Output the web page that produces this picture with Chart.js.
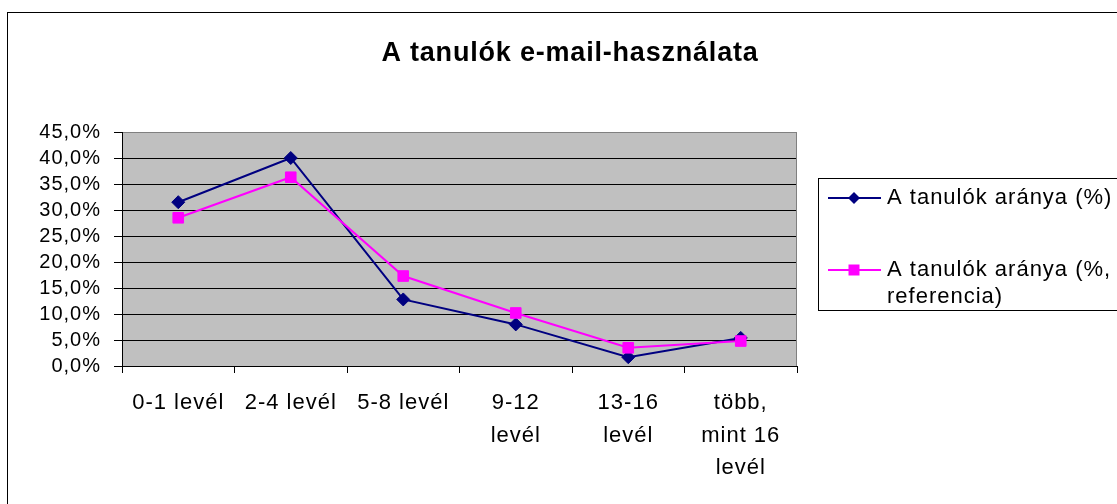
<!DOCTYPE html>
<html lang="hu">
<head>
<meta charset="utf-8">
<title>A tanulók e-mail-használata</title>
<script src="https://cdn.jsdelivr.net/npm/chart.js@4"></script>
<style>
  html, body { margin: 0; padding: 0; background: #fff; }
  #myChart { display: block; }
</style>
</head>
<body>
<canvas id="myChart" width="1117" height="504"></canvas>
<script>
var chartTitle = 'A tanulók e-mail-használata';
var categories = [['0-1 levél'], ['2-4 levél'], ['5-8 levél'], ['9-12', 'levél'], ['13-16', 'levél'], ['több,', 'mint 16', 'levél']];
var seriesNames = ['A tanulók aránya (%)', 'A tanulók aránya (%, referencia)'];
var tanulok = [31.5, 40.0, 12.8, 8.0, 1.7, 5.4];
var referencia = [28.5, 36.3, 17.3, 10.2, 3.5, 4.8];

var fontFamily = '"Liberation Sans", Arial, sans-serif';

// word wrap for the legend text
function wrapText(ctx, text, maxWidth) {
    var words = text.split(' ');
    var lines = [];
    var line = '';
    words.forEach(function (w) {
        var test = line ? line + ' ' + w : w;
        if (line && ctx.measureText(test).width > maxWidth) {
            lines.push(line);
            line = w;
        } else {
            line = test;
        }
    });
    lines.push(line);
    return lines;
}

function drawMarker(ctx, style, x, y, color) {
    ctx.fillStyle = color;
    ctx.beginPath();
    if (style === 'rectRot') {
        ctx.moveTo(x - 6, y);
        ctx.lineTo(x, y - 6);
        ctx.lineTo(x + 6, y);
        ctx.lineTo(x, y + 6);
        ctx.closePath();
    } else {
        ctx.rect(x - 5.5, y - 5.5, 11, 11);
    }
    ctx.fill();
}

var excelLook = {
    id: 'excelLook',
    beforeDraw: function (chart) {
        var ctx = chart.ctx, a = chart.chartArea;
        ctx.letterSpacing = '1px';
        ctx.save();
        ctx.fillStyle = '#fff';
        ctx.fillRect(0, 0, chart.width, chart.height);
        ctx.fillStyle = '#c0c0c0';
        ctx.fillRect(a.left, a.top, a.right - a.left, a.bottom - a.top);
        ctx.restore();
    },
    afterDraw: function (chart) {
        var ctx = chart.ctx, a = chart.chartArea;
        ctx.save();
        ctx.lineWidth = 1;

        // gray right edge of the plot area
        ctx.strokeStyle = '#808080';
        ctx.beginPath();
        ctx.moveTo(Math.round(a.right) - 0.5, a.top);
        ctx.lineTo(Math.round(a.right) - 0.5, a.bottom);
        ctx.stroke();

        // outer frame
        ctx.strokeStyle = '#000';
        ctx.strokeRect(7.5, 12.5, 1200, 600);

        // title
        ctx.letterSpacing = '0.8px';
        ctx.font = 'bold 27px ' + fontFamily;
        ctx.fillStyle = '#000';
        ctx.textAlign = 'center';
        ctx.textBaseline = 'middle';
        ctx.fillText(chartTitle, 570, 54);

        // legend
        ctx.strokeStyle = '#000';
        ctx.strokeRect(818.5, 178.5, 400, 132);
        ctx.letterSpacing = '1px';
        ctx.font = '22px ' + fontFamily;
        ctx.textAlign = 'left';
        var rowY = [198, 270];
        chart.data.datasets.forEach(function (ds, i) {
            var y = rowY[i];
            ctx.strokeStyle = ds.borderColor;
            ctx.lineWidth = 2;
            ctx.beginPath();
            ctx.moveTo(828, y);
            ctx.lineTo(881, y);
            ctx.stroke();
            drawMarker(ctx, ds.pointStyle, 854, y, ds.borderColor);
            ctx.fillStyle = '#000';
            wrapText(ctx, ds.label, 232).forEach(function (line, j) {
                ctx.fillText(line, 887, y + j * 27);
            });
        });
        ctx.restore();
    }
};

var ctx = document.getElementById('myChart');
var myChart = new Chart(ctx, {
    type: 'line',
    data: {
        labels: categories,
        datasets: [{
            label: seriesNames[0],
            data: tanulok,
            borderColor: '#000080',
            backgroundColor: '#000080',
            borderWidth: 2,
            pointStyle: 'rectRot',
            pointRadius: 6.5,
            pointBorderWidth: 1,
            order: 1,
            fill: false
        }, {
            label: seriesNames[1],
            data: referencia,
            borderColor: '#ff00ff',
            backgroundColor: '#ff00ff',
            borderWidth: 2,
            pointStyle: 'rect',
            pointRadius: 7.5,
            pointBorderWidth: 1,
            order: 0,
            fill: false
        }]
    },
    options: {
        responsive: false,
        animation: false,
        events: [],
        layout: {
            padding: { top: 132, right: 320, left: 0, bottom: 0 }
        },
        plugins: {
            legend: { display: false },
            title: { display: false },
            tooltip: { enabled: false }
        },
        scales: {
            x: {
                offset: true,
                grid: {
                    display: true,
                    offset: true,
                    drawOnChartArea: false,
                    drawTicks: true,
                    tickLength: 7,
                    color: '#000'
                },
                border: { display: true, color: '#000', width: 1 },
                ticks: {
                    color: '#000',
                    padding: 14,
                    maxRotation: 0,
                    autoSkip: false,
                    font: { family: fontFamily, size: 22, lineHeight: 1.48 }
                },
                afterFit: function (scale) { scale.height = 138; }
            },
            y: {
                min: 0,
                max: 45,
                grid: {
                    color: function (c) { return c.tick && c.tick.value === 45 ? '#808080' : '#000'; },
                    tickColor: '#000',
                    tickLength: 8,
                    lineWidth: 1
                },
                border: { display: true, color: '#000', width: 1 },
                ticks: {
                    stepSize: 5,
                    autoSkip: false,
                    color: '#000',
                    padding: 13,
                    font: { family: fontFamily, size: 20, lineHeight: 1 },
                    callback: function (v) { return v.toFixed(1).replace('.', ',') + '%'; }
                },
                afterFit: function (scale) { scale.width = 122; }
            }
        }
    },
    plugins: [excelLook]
});
</script>
</body>
</html>
